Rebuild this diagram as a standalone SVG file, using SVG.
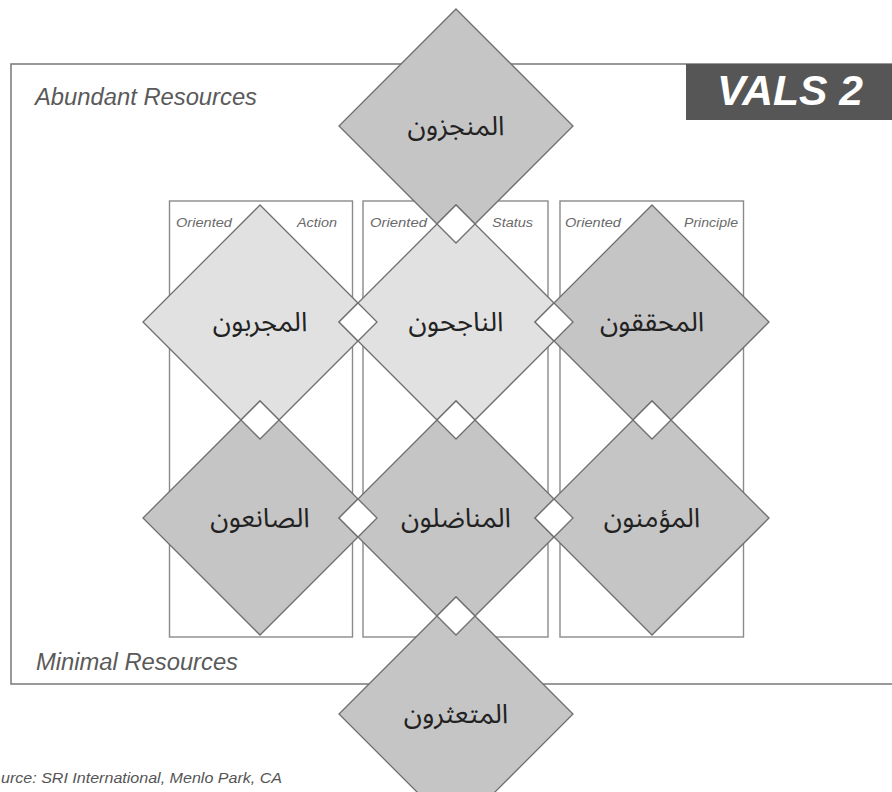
<svg xmlns="http://www.w3.org/2000/svg" width="892" height="792" viewBox="0 0 892 792">
  <style>
    .frame { fill: #ffffff; stroke: #808080; stroke-width: 1.6; }
    .col { fill: #ffffff; stroke: #8a8a8a; stroke-width: 1.4; }
    .dark { fill: #c5c5c5; stroke: #6e6e6e; stroke-width: 1.3; }
    .light { fill: #e1e1e1; stroke: #6e6e6e; stroke-width: 1.3; }
    .gap { fill: #ffffff; stroke: #6e6e6e; stroke-width: 1.3; }
    .res { font-family: "Liberation Sans", Arial, sans-serif; font-style: italic; font-size: 23px; fill: #5a5a5a; }
    .hdr { font-family: "Liberation Sans", Arial, sans-serif; font-style: italic; font-size: 12.5px; fill: #6a6a6a; }
    .lbl { font-family: "Noto Sans Arabic", "DejaVu Sans", sans-serif; font-size: 27px; fill: #222222; text-anchor: middle; }
    .src { font-family: "Liberation Sans", Arial, sans-serif; font-style: italic; font-size: 15px; fill: #555555; }
  </style>

  <rect width="892" height="792" fill="#ffffff"/>

  <g id="frame">
    <rect class="frame" x="11" y="64" width="890" height="620"/>
    <rect x="686" y="64" width="210" height="56" fill="#565656"/>
    <text x="717" y="105" font-family="Liberation Sans, Arial, sans-serif" font-weight="bold" font-style="italic" font-size="42" fill="#ffffff" textLength="146" lengthAdjust="spacingAndGlyphs">VALS 2</text>
    <text class="res" x="35" y="105" textLength="222" lengthAdjust="spacingAndGlyphs">Abundant Resources</text>
    <text class="res" x="36" y="670" textLength="202" lengthAdjust="spacingAndGlyphs">Minimal Resources</text>
  </g>

  <g id="columns">
    <rect class="col" x="169.5" y="201" width="183" height="436"/>
    <rect class="col" x="363" y="201" width="185" height="436"/>
    <rect class="col" x="560" y="201" width="183.5" height="436"/>
    <text class="hdr" x="176" y="227" textLength="56" lengthAdjust="spacingAndGlyphs">Oriented</text>
    <text class="hdr" x="297" y="227" textLength="40" lengthAdjust="spacingAndGlyphs">Action</text>
    <text class="hdr" x="370" y="227" textLength="57" lengthAdjust="spacingAndGlyphs">Oriented</text>
    <text class="hdr" x="492" y="227" textLength="41" lengthAdjust="spacingAndGlyphs">Status</text>
    <text class="hdr" x="565" y="227" textLength="56" lengthAdjust="spacingAndGlyphs">Oriented</text>
    <text class="hdr" x="684" y="227" textLength="54" lengthAdjust="spacingAndGlyphs">Principle</text>
  </g>

  <g id="actualizers">
    <polygon class="dark" points="456,9 573,126 456,243 339,126"/>
    <text class="lbl" x="456" y="135">المنجزون</text>
  </g>
  <g id="experiencers">
    <polygon class="light" points="260,205 377,322 260,439 143,322"/>
    <text class="lbl" x="260" y="331">المجربون</text>
  </g>
  <g id="achievers">
    <polygon class="light" points="456,205 573,322 456,439 339,322"/>
    <text class="lbl" x="456" y="331">الناجحون</text>
  </g>
  <g id="fulfilleds">
    <polygon class="dark" points="652,205 769,322 652,439 535,322"/>
    <text class="lbl" x="652" y="331">المحققون</text>
  </g>
  <g id="makers">
    <polygon class="dark" points="260,401 377,518 260,635 143,518"/>
    <text class="lbl" x="260" y="527">الصانعون</text>
  </g>
  <g id="strivers">
    <polygon class="dark" points="456,401 573,518 456,635 339,518"/>
    <text class="lbl" x="456" y="527">المناضلون</text>
  </g>
  <g id="believers">
    <polygon class="dark" points="652,401 769,518 652,635 535,518"/>
    <text class="lbl" x="652" y="527">المؤمنون</text>
  </g>
  <g id="strugglers">
    <polygon class="dark" points="456,597 573,714 456,831 339,714"/>
    <text class="lbl" x="456" y="723">المتعثرون</text>
  </g>

  <g id="connectors">
    <polygon class="gap" points="456,205 475,224 456,243 437,224"/>
    <polygon class="gap" points="358,303 377,322 358,341 339,322"/>
    <polygon class="gap" points="554,303 573,322 554,341 535,322"/>
    <polygon class="gap" points="260,401 279,420 260,439 241,420"/>
    <polygon class="gap" points="456,401 475,420 456,439 437,420"/>
    <polygon class="gap" points="652,401 671,420 652,439 633,420"/>
    <polygon class="gap" points="358,499 377,518 358,537 339,518"/>
    <polygon class="gap" points="554,499 573,518 554,537 535,518"/>
    <polygon class="gap" points="456,597 475,616 456,635 437,616"/>
  </g>

  <g id="source">
    <text class="src" x="1" y="783" textLength="281" lengthAdjust="spacingAndGlyphs">urce: SRI International, Menlo Park, CA</text>
  </g>
</svg>
